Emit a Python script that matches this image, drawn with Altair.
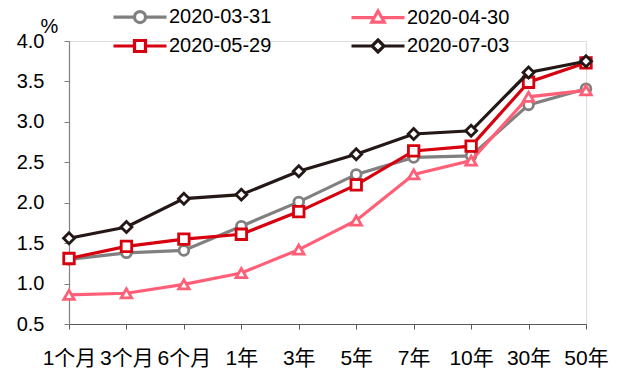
import altair as alt
import pandas as pd

categories = ["1个月", "3个月", "6个月", "1年", "3年", "5年", "7年", "10年", "30年", "50年"]
series_names = ["2020-03-31", "2020-04-30", "2020-05-29", "2020-07-03"]
s_0331 = [1.30, 1.38, 1.41, 1.71, 2.01, 2.35, 2.56, 2.58, 3.21, 3.41]
s_0430 = [0.86, 0.88, 0.99, 1.13, 1.42, 1.78, 2.35, 2.52, 3.31, 3.39]
s_0529 = [1.31, 1.46, 1.55, 1.61, 1.89, 2.22, 2.64, 2.70, 3.49, 3.73]
s_0703 = [1.56, 1.70, 2.05, 2.10, 2.39, 2.60, 2.85, 2.89, 3.61, 3.75]
y_ticks = [0.5, 1.0, 1.5, 2.0, 2.5, 3.0, 3.5, 4.0]

colors = ["#808080", "#FF6078", "#D7000F", "#231815"]
shapes = ["circle", "triangle-up", "square", "diamond"]
sizes = [95, 110, 110, 120]

# legend symbols: line + open marker (unit = 5 px)
legend_paths = [
    "M-5.3,0H-1.1M1.1,0H5.3M-1.1,0A1.1,1.1,0,1,1,1.1,0A1.1,1.1,0,1,1,-1.1,0Z",
    "M-5.3,0H-0.75M0.75,0H5.3M0,-1.3L1.25,0.9L-1.25,0.9Z",
    "M-5.3,0H-1.1M1.1,0H5.3M-1.1,-1.1H1.1V1.1H-1.1Z",
    "M-5.3,0H-1.2M1.2,0H5.3M0,-1.2L1.2,0L0,1.2L-1.2,0Z",
]

rows = []
for name, vals in zip(series_names, [s_0331, s_0430, s_0529, s_0703]):
    for c, v in zip(categories, vals):
        rows.append({"tenor": c, "series": name, "value": v})
df = pd.DataFrame(rows)

FONT = "Liberation Sans, Noto Sans CJK SC"

x_enc = alt.X(
    "tenor:N", sort=categories,
    scale=alt.Scale(type="point", padding=0),
    axis=alt.Axis(title=None, labelAngle=0, labelFontSize=21, labelFont=FONT,
                  labelColor="#000000", tickSize=5, labelPadding=18,
                  domainColor="#595959", tickColor="#595959", domainWidth=1.2,
                  grid=False),
)
y_enc = alt.Y(
    "value:Q",
    scale=alt.Scale(domain=[0.5, 4.0], nice=False, zero=False),
    axis=alt.Axis(values=y_ticks, format=".1f", labelFontSize=20, labelFont=FONT,
                  labelColor="#000000", tickSize=5, labelPadding=20,
                  domainColor="#808080", tickColor="#808080", domainWidth=1.2,
                  grid=False, title="%", titleAngle=0, titleX=-20, titleY=-15,
                  titleAlign="center", titleBaseline="middle", titleFontSize=20,
                  titleFont=FONT, titleFontWeight="normal", titleColor="#000000"),
)

base = alt.Chart(df).encode(x=x_enc, y=y_enc)

layers = []
for name, col, shp, sz in zip(series_names, colors, shapes, sizes):
    sub = base.transform_filter(alt.datum.series == name)
    layers.append(sub.mark_line(color=col, strokeWidth=3.2))
    layers.append(sub.mark_point(shape=shp, size=sz, filled=True, fill="white",
                                 stroke=col, strokeWidth=2.8, opacity=1))

leg_props = dict(
    orient="none", legendX=61, legendY=-34, columns=2, direction="horizontal",
    title=None,
    labelFont=FONT, labelFontSize=20, labelColor="#000000",
    symbolSize=100, symbolStrokeWidth=3.2, symbolOpacity=1,
    labelOffset=19, columnPadding=73, rowPadding=4, padding=0,
)
legend_layer = base.mark_point(opacity=0, filled=False, strokeWidth=3).encode(
    color=alt.Color("series:N", scale=alt.Scale(domain=series_names, range=colors),
                    legend=alt.Legend(**leg_props)),
    shape=alt.Shape("series:N", scale=alt.Scale(domain=series_names, range=legend_paths),
                    legend=alt.Legend(**leg_props)),
)

chart = alt.layer(legend_layer, *layers).properties(
    width=517, height=283,
    autosize=alt.AutoSizeParams(type="none"),
    padding={"left": 69, "top": 41, "right": 34, "bottom": 45},
).configure_view(stroke=None).configure(background="white")

chart.save("out.html", embed_options={"renderer": "svg", "actions": False})
